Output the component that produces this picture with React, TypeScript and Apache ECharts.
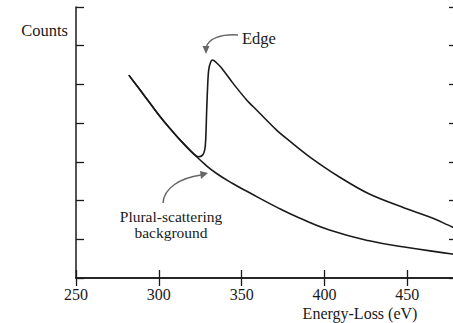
import React, { useEffect, useRef } from "react";
import * as echarts from "echarts";

const xTicks = [250, 300, 350, 400, 450];
const backgroundEnergy = [281.9, 288.6, 294.6, 300.6, 306.6, 314.5, 321.7, 327.7, 334.9, 344.6, 354.8, 371.1, 384.9, 403.0, 427.1, 448.2, 477.1, 480];
const backgroundCounts = [5.24, 4.86, 4.52, 4.18, 3.87, 3.49, 3.18, 2.94, 2.7, 2.44, 2.2, 1.83, 1.55, 1.24, 0.96, 0.8, 0.62, 0.6];
const edgeEnergy = [281.9, 288.6, 294.6, 300.6, 306.6, 314.5, 321.7, 324.1, 326.5, 327.7, 328.3, 328.9, 329.5, 330.1, 331.3, 332.5, 334.3, 338.0, 344.6, 353.0, 359.0, 371.1, 378.9, 391.0, 409.0, 427.1, 448.2, 465.1, 477.1, 480];
const edgeCounts = [5.24, 4.86, 4.52, 4.18, 3.87, 3.49, 3.18, 3.13, 3.18, 3.31, 3.57, 4.34, 4.99, 5.37, 5.58, 5.63, 5.58, 5.42, 5.04, 4.6, 4.34, 3.82, 3.54, 3.13, 2.61, 2.17, 1.81, 1.55, 1.32, 1.29];

const FONT = "serif";
const INK = "#1a1a1a";
const ARROW = "#666";

export default function App() {
  const ref = useRef<HTMLDivElement>(null);
  useEffect(() => {
    if (!ref.current) return;
    const chart = echarts.init(ref.current, null, { renderer: "svg" });
    const axisLine = { show: true, lineStyle: { color: INK, width: 1.5 } };
    const tick = { show: true, inside: true, length: 8, lineStyle: { color: INK, width: 1.3 } };
    chart.setOption({
      animation: false,
      backgroundColor: "#fff",
      grid: { left: 76, right: 1, top: 7, bottom: 45 },
      xAxis: [
        {
          type: "value", min: 250, max: 480, interval: 50, position: "bottom",
          axisLine, axisTick: tick, splitLine: { show: false },
          axisLabel: {
            fontFamily: FONT, fontSize: 16, color: INK, margin: 8,
            formatter: (v: number) => (xTicks.includes(v) ? String(v) : ""),
          },
        },
        {
          type: "value", min: 250, max: 480, interval: 50, position: "top",
          axisLine, axisTick: tick, splitLine: { show: false }, axisLabel: { show: false },
        },
      ],
      yAxis: [
        {
          type: "value", min: 0, max: 7, interval: 1, position: "left",
          axisLine, axisTick: tick, splitLine: { show: false }, axisLabel: { show: false },
        },
        {
          type: "value", min: 0, max: 7, interval: 1, position: "right",
          axisLine, axisTick: tick, splitLine: { show: false }, axisLabel: { show: false },
        },
      ],
      series: [
        {
          type: "line", name: "background", showSymbol: false, smooth: 0.5,
          data: backgroundEnergy.map((e, i) => [e, backgroundCounts[i]]),
          lineStyle: { color: INK, width: 1.6 },
        },
        {
          type: "line", name: "edge", showSymbol: false, smooth: 0.3,
          data: edgeEnergy.map((e, i) => [e, edgeCounts[i]]),
          lineStyle: { color: INK, width: 1.6 },
        },
      ],
      graphic: [
        { type: "text", x: 68, y: 30, style: { text: "Counts", fontFamily: FONT, fontSize: 16.5, fill: INK, align: "right", verticalAlign: "middle" } },
        { type: "text", x: 242, y: 38, style: { text: "Edge", fontFamily: FONT, fontSize: 16.5, fill: INK, verticalAlign: "middle" } },
        { type: "text", x: 171, y: 216.5, style: { text: "Plural-scattering", fontFamily: FONT, fontSize: 15.5, fill: INK, align: "center", verticalAlign: "middle" } },
        { type: "text", x: 171, y: 232.5, style: { text: "background", fontFamily: FONT, fontSize: 15.5, fill: INK, align: "center", verticalAlign: "middle" } },
        { type: "text", x: 360, y: 313, style: { text: "Energy-Loss (eV)", fontFamily: FONT, fontSize: 16, fill: INK, align: "center", verticalAlign: "middle" } },
        {
          type: "bezierCurve",
          shape: { x1: 238, y1: 35, cpx1: 222, cpy1: 34, cpx2: 208, cpy2: 38, x2: 206, y2: 48 },
          style: { stroke: ARROW, lineWidth: 1.5, fill: null },
        },
        { type: "polygon", shape: { points: [[202.5, 46], [209.5, 46], [206, 54]] }, style: { fill: ARROW } },
        {
          type: "bezierCurve",
          shape: { x1: 163, y1: 203, cpx1: 164, cpy1: 188, cpx2: 180, cpy2: 178, x2: 201, y2: 175 },
          style: { stroke: ARROW, lineWidth: 1.5, fill: null },
        },
        { type: "polygon", shape: { points: [[200, 171], [201, 179], [208, 173]] }, style: { fill: ARROW } },
      ],
    });
    return () => chart.dispose();
  }, []);
  return (
    <div style={{ position: "fixed", left: 0, top: 0, width: 453, height: 323, overflow: "hidden", background: "#fff" }}>
      <div ref={ref} style={{ width: 460, height: 323 }} />
    </div>
  );
}
